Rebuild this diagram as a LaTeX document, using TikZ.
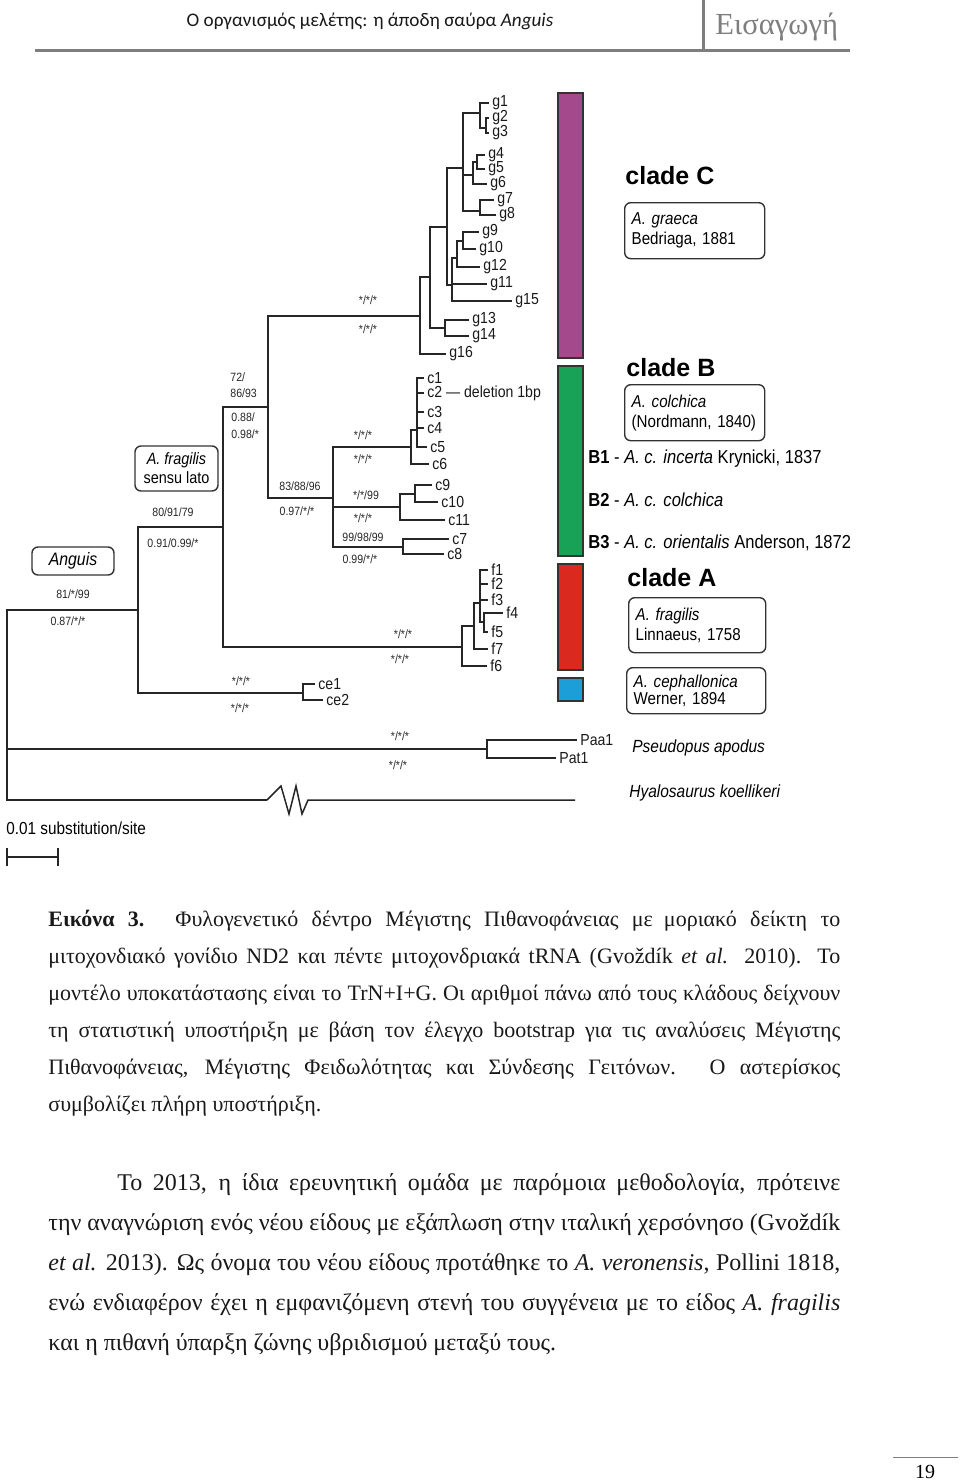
\documentclass[tikz,border=0pt]{standalone}
\usepackage{fontspec}
\setmainfont{Liberation Serif}
\newfontfamily\treefont[FakeStretch=0.88]{Liberation Sans}
\newfontfamily\cladefont{Liberation Sans}
\newfontfamily\headfont{Carlito}
\usetikzlibrary{positioning}
\definecolor{cladeC}{HTML}{A3498C}
\definecolor{cladeB}{HTML}{17A257}
\definecolor{cladeA}{HTML}{DA2A1F}
\definecolor{cladeCe}{HTML}{1C9ED8}
\definecolor{headgray}{HTML}{7E7E7E}
\tikzset{
branch/.style={draw=black!85,line width=0.75pt},
leaf/.style={anchor=west,inner sep=1.5pt,text=black!90,font=\treefont\fontsize{8}{8}\selectfont},
supp/.style={inner sep=0pt,text=black!85,font=\treefont\fontsize{6}{6}\selectfont},
taxbox/.style={draw=black!80,line width=0.7pt,rounded corners=3pt,anchor=north west,align=left,inner xsep=3.5pt,inner ysep=0pt,font=\treefont\fontsize{8.6}{10}\selectfont},
cladename/.style={anchor=west,inner sep=0pt,font=\cladefont\bfseries\fontsize{12.5}{12.5}\selectfont},
subclade/.style={anchor=west,inner sep=0pt,font=\treefont\fontsize{9.4}{9.4}\selectfont},
cladebar/.style={draw=black!80,line width=0.6pt},
capline/.style={anchor=base west,inner sep=0pt,text=black!90,font=\fontsize{11}{12}\selectfont},
bodyline/.style={anchor=base west,inner sep=0pt,text=black!90,font=\fontsize{12}{13}\selectfont}
}
\newcommand{\jline}[2]{\makebox[#1][s]{#2}}

\begin{document}
\begin{tikzpicture}[x=0.5pt,y=-0.5pt]
\useasboundingbox (0,0) rectangle (960,1483);

% running head
\node[anchor=base,inner sep=0pt,text=black!90,font=\headfont\fontsize{9.6}{11}\selectfont] (runhead) at (370,26) {Ο οργανισμός μελέτης: η άποδη σαύρα \textit{Anguis}};
\node[anchor=base west,inner sep=0pt,text=headgray,font=\fontsize{15.3}{15}\selectfont] (chapter) at (715,34) {Εισαγωγή};
\draw[headgray,line width=1.5pt] (35,50) -- (850,50);
\draw[headgray,line width=1.5pt] (703,0) -- (703,50);

% internal nodes of the tree
\coordinate (R) at (7,700);
\coordinate (A) at (138,610);
\coordinate (F) at (223,527);
\coordinate (G) at (268,407);
\coordinate (GC) at (420,316);
\coordinate (Ga) at (430,277);
\coordinate (Gb) at (447,227);
\coordinate (Gc) at (463,168);
\coordinate (g1to3) at (480,113);
\coordinate (g2g3) at (486,128);
\coordinate (g4to6) at (473,175);
\coordinate (g45) at (477,162);
\coordinate (g7g8) at (480,211);
\coordinate (Gd) at (452,285);
\coordinate (Ge) at (457,258);
\coordinate (g9g10) at (463,241);
\coordinate (g1314) at (445,328);
\coordinate (C) at (333,498);
\coordinate (CC1) at (411,447);
\coordinate (C1s) at (417,430);
\coordinate (CC9) at (400,507);
\coordinate (c9c10) at (415,494);
\coordinate (CC7) at (403,547);
\coordinate (FA) at (462,647);
\coordinate (Fb) at (474,626);
\coordinate (Fc) at (480,603);
\coordinate (F45) at (484,622);
\coordinate (CE) at (303,693);
\coordinate (P) at (487,749);
\coordinate (H0) at (267,800);
\coordinate (H1) at (575,800);

% leaves
\node[leaf] (g1) at (489,103) {g1};
\node[leaf] (g2) at (489,118) {g2};
\node[leaf] (g3) at (489,133) {g3};
\node[leaf] (g4) at (485,155) {g4};
\node[leaf] (g5) at (485,169) {g5};
\node[leaf] (g6) at (487,184) {g6};
\node[leaf] (g7) at (494,200) {g7};
\node[leaf] (g8) at (496,215) {g8};
\node[leaf] (g9) at (479,232) {g9};
\node[leaf] (g10) at (476,249) {g10};
\node[leaf] (g12) at (480,267) {g12};
\node[leaf] (g11) at (487,284) {g11};
\node[leaf] (g15) at (512,301) {g15};
\node[leaf] (g13) at (469,320) {g13};
\node[leaf] (g14) at (469,336) {g14};
\node[leaf] (g16) at (446,354) {g16};
\node[leaf] (c1) at (424,378) {c1};
\node[leaf] (c2) at (424,393) {c2 — deletion 1bp};
\node[leaf] (c3) at (424,412) {c3};
\node[leaf] (c4) at (424,428) {c4};
\node[leaf] (c5) at (427,447) {c5};
\node[leaf] (c6) at (429,464) {c6};
\node[leaf] (c9) at (432,485) {c9};
\node[leaf] (c10) at (438,502) {c10};
\node[leaf] (c11) at (445,520) {c11};
\node[leaf] (c7) at (449,539) {c7};
\node[leaf] (c8) at (444,554) {c8};
\node[leaf] (f1) at (488,570) {f1};
\node[leaf] (f2) at (488,584) {f2};
\node[leaf] (f3) at (488,600) {f3};
\node[leaf] (f4) at (503,613) {f4};
\node[leaf] (f5) at (488,632) {f5};
\node[leaf] (f7) at (488,649) {f7};
\node[leaf] (f6) at (487,666) {f6};
\node[leaf] (ce1) at (315,684) {ce1};
\node[leaf] (ce2) at (323,700) {ce2};
\node[leaf] (Paa1) at (577,740) {Paa1};
\node[leaf] (Pat1) at (556,758) {Pat1};

% branches
\draw[branch] (R) |- (A) (R) |- (P) (R) |- (H0)
  (A) |- (F) (A) |- (CE)
  (F) |- (G) (F) |- (FA)
  (G) |- (GC) (G) |- (C)
  (GC) |- (Ga) (GC) |- (g16.west)
  (Ga) |- (Gb) (Ga) |- (g1314)
  (g1314) |- (g13.west) (g1314) |- (g14.west)
  (Gb) |- (Gc) (Gb) |- (Gd)
  (Gc) |- (g1to3) (Gc) |- (g4to6) (Gc) |- (g7g8)
  (g1to3) |- (g1.west) (g1to3) |- (g2g3)
  (g2g3) |- (g2.west) (g2g3) |- (g3.west)
  (g4to6) |- (g45) (g4to6) |- (g6.west)
  (g45) |- (g4.west) (g45) |- (g5.west)
  (g7g8) |- (g7.west) (g7g8) |- (g8.west)
  (Gd) |- (Ge) (Gd) |- (g11.west) (Gd) |- (g15.west)
  (Ge) |- (g9g10) (Ge) |- (g12.west)
  (g9g10) |- (g9.west) (g9g10) |- (g10.west)
  (C) |- (CC1) (C) |- (CC9) (C) |- (CC7)
  (CC1) |- (C1s) (CC1) |- (c6.west)
  (C1s) |- (c1.west) (C1s) |- (c2.west) (C1s) |- (c3.west) (C1s) |- (c4.west) (C1s) |- (c5.west)
  (CC9) |- (c9c10) (CC9) |- (c11.west)
  (c9c10) |- (c9.west) (c9c10) |- (c10.west)
  (CC7) |- (c7.west) (CC7) |- (c8.west)
  (FA) |- (Fb) (FA) |- (f6.west)
  (Fb) |- (Fc) (Fb) |- (f7.west)
  (Fc) |- (f1.west) (Fc) |- (f2.west) (Fc) |- (f3.west) (Fc) |- (F45)
  (F45) |- (f4.west) (F45) |- (f5.west)
  (CE) |- (ce1.west) (CE) |- (ce2.west)
  (P) |- (Paa1.west) (P) |- (Pat1.west);
\draw[branch] (H0) -- ++(14,-14) -- ++(8,28) -- ++(7,-28) -- ++(6,28) -- ++(6,-14) -- (H1);

% support values
\node[supp] (sA1) at (73,594) {81/*/99};
\node[supp] (sA2) at (68,621) {0.87/*/*};
\node[supp] (sF1) at (173,512) {80/91/79};
\node[supp] (sF2) at (173,543) {0.91/0.99/*};
\node[supp,anchor=west] (sG1) at (230,377) {72/};
\node[supp,anchor=west] (sG2) at (230,393) {86/93};
\node[supp,anchor=west] (sG3) at (231,417) {0.88/};
\node[supp,anchor=west] (sG4) at (231,434) {0.98/*};
\node[supp] (sGC1) at (368,300) {*/*/*};
\node[supp] (sGC2) at (368,329) {*/*/*};
\node[supp] (sC1) at (300,486) {83/88/96};
\node[supp] (sC2) at (297,511) {0.97/*/*};
\node[supp] (sCC11) at (363,435) {*/*/*};
\node[supp] (sCC12) at (363,459) {*/*/*};
\node[supp] (sCC91) at (366,495) {*/*/99};
\node[supp] (sCC92) at (363,518) {*/*/*};
\node[supp] (sCC71) at (363,537) {99/98/99};
\node[supp] (sCC72) at (360,559) {0.99/*/*};
\node[supp] (sFA1) at (403,634) {*/*/*};
\node[supp] (sFA2) at (400,659) {*/*/*};
\node[supp] (sCE1) at (241,681) {*/*/*};
\node[supp] (sCE2) at (240,708) {*/*/*};
\node[supp] (sP1) at (400,736) {*/*/*};
\node[supp] (sP2) at (398,765) {*/*/*};

% group boxes on the tree
\node[taxbox,anchor=center,align=center,minimum width=41pt,minimum height=14pt,font=\treefont\fontsize{9}{9}\selectfont] (anguis) at (73,561) {\textit{Anguis}};
\node[taxbox,anchor=center,align=center,minimum width=41.5pt,minimum height=22.5pt,font=\treefont\fontsize{8.2}{9.5}\selectfont] (fragsl) at (176.5,468.5) {\textit{A. fragilis}\\sensu lato};

% clade bars
\draw[cladebar,fill=cladeC] (558,93) rectangle (583,358);
\draw[cladebar,fill=cladeB] (558,366) rectangle (583,556);
\draw[cladebar,fill=cladeA] (558,564) rectangle (583,670);
\draw[cladebar,fill=cladeCe] (558,678) rectangle (583,701);

% clade names
\node[cladename] (cladeCname) at (625,176) {clade C};
\node[taxbox,text width=63pt,minimum height=28pt] (graeca) at (624,202) {\textit{A. graeca}\\Bedriaga, 1881};
\node[cladename] (cladeBname) at (626,368) {clade B};
\node[taxbox,text width=63pt,minimum height=28pt] (colchica) at (624,384) {\textit{A. colchica}\\(Nordmann, 1840)};
\node[subclade] (B1) at (588,459) {\textbf{B1} - \textit{A. c. incerta} Krynicki, 1837};
\node[subclade] (B2) at (588,500) {\textbf{B2} - \textit{A. c. colchica}};
\node[subclade] (B3) at (588,543) {\textbf{B3} - \textit{A. c. orientalis} Anderson, 1872};
\node[cladename] (cladeAname) at (627,578) {clade A};
\node[taxbox,text width=61.5pt,minimum height=27.5pt] (fragilis) at (628,597) {\textit{A. fragilis}\\Linnaeus, 1758};
\node[taxbox,text width=62.5pt,minimum height=23pt,font=\treefont\fontsize{8.6}{8.8}\selectfont] (cephal) at (626,667) {\textit{A. cephallonica}\\Werner, 1894};
\node[subclade,font=\treefont\itshape\fontsize{8.8}{8.8}\selectfont] (pseudopus) at (632,748) {Pseudopus apodus};
\node[subclade,font=\treefont\itshape\fontsize{8.8}{8.8}\selectfont] (hyalo) at (629,793) {Hyalosaurus koellikeri};

% scale bar
\node[subclade,font=\treefont\fontsize{8.7}{8.7}\selectfont] (scaletext) at (6,828) {0.01 substitution/site};
\coordinate (sb1) at (7,857);
\coordinate (sb2) at (58,857);
\draw[branch] (sb1) -- (sb2) ([yshift=4.5pt]sb1) -- ([yshift=-4.5pt]sb1) ([yshift=4.5pt]sb2) -- ([yshift=-4.5pt]sb2);

% caption
\node[capline] (cap1) at (48,926) {\jline{396pt}{\textbf{Εικόνα 3.} Φυλογενετικό δέντρο Μέγιστης Πιθανοφάνειας με\enspace μοριακό δείκτη το}};
\node[capline] (cap2) at (48,963) {\jline{396pt}{μιτοχονδιακό γονίδιο ND2 και πέντε μιτοχονδριακά tRNA (Gvoždík \textit{et al.} 2010). Το}};
\node[capline] (cap3) at (48,1000) {\jline{396pt}{μοντέλο υποκατάστασης είναι το TrN+I+G. Οι αριθμοί πάνω από τους κλάδους δείχνουν}};
\node[capline] (cap4) at (48,1037) {\jline{396pt}{τη στατιστική υποστήριξη με βάση τον έλεγχο bootstrap για τις αναλύσεις Μέγιστης}};
\node[capline] (cap5) at (48,1074) {\jline{396pt}{Πιθανοφάνειας, Μέγιστης Φειδωλότητας και Σύνδεσης Γειτόνων. Ο αστερίσκος}};
\node[capline] (cap6) at (48,1111) {συμβολίζει πλήρη υποστήριξη.};

% body paragraph
\node[bodyline] (par1) at (117,1190) {\jline{361.5pt}{Το 2013, η ίδια ερευνητική ομάδα με παρόμοια μεθοδολογία, πρότεινε}};
\node[bodyline] (par2) at (48,1230) {\jline{396pt}{την αναγνώριση ενός νέου είδους με εξάπλωση στην ιταλική χερσόνησο (Gvoždík}};
\node[bodyline] (par3) at (48,1270) {\jline{396pt}{\textit{et al.} 2013). Ως όνομα του νέου είδους προτάθηκε το \textit{A. veronensis}, Pollini 1818,}};
\node[bodyline] (par4) at (48,1310) {\jline{396pt}{ενώ ενδιαφέρον έχει η εμφανιζόμενη στενή του συγγένεια με το είδος \textit{A. fragilis}}};
\node[bodyline] (par5) at (48,1350) {και η πιθανή ύπαρξη ζώνης υβριδισμού μεταξύ τους.};

% page number
\draw[headgray,line width=0.4pt] (893,1457) -- (958,1457);
\node[inner sep=0pt,font=\fontsize{10}{10}\selectfont] (pagenum) at (925,1472) {19};
\end{tikzpicture}
\end{document}
